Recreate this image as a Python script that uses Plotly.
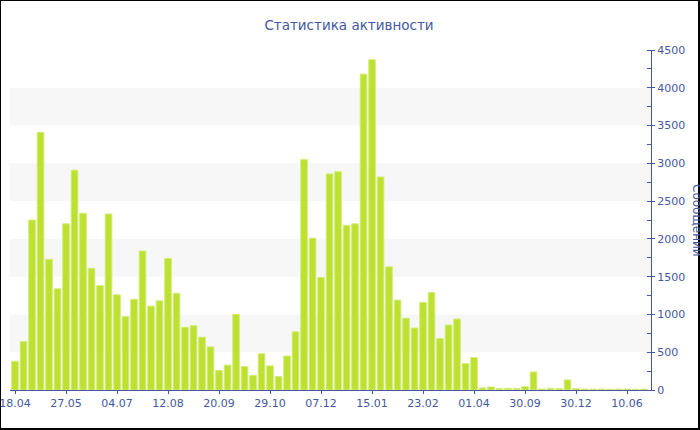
import plotly.graph_objects as go

# ---- data ----
values = [380, 640, 2250, 3410, 1730, 1340, 2200, 2910, 2340, 1610,
          1380, 2330, 1260, 970, 1200, 1840, 1110, 1180, 1740, 1280,
          830, 850, 700, 570, 260, 330, 1000, 310, 195, 480,
          320, 180, 450, 770, 3050, 2010, 1490, 2860, 2890, 2180,
          2200, 4180, 4370, 2820, 1630, 1190, 950, 820, 1160, 1290,
          680, 860, 940, 350, 430, 27, 40, 18, 22, 18,
          44, 239, 13, 22, 18, 133, 20, 13, 12, 12,
          10, 12, 12, 10, 12]
positions = list(range(len(values)))
tick_positions = [0, 6, 12, 18, 24, 30, 36, 42, 48, 54, 60, 66, 72]
tick_labels = ["18.04", "27.05", "04.07", "12.08", "20.09", "29.10", "07.12",
               "15.01", "23.02", "01.04", "30.09", "30.12", "10.06"]
band_ranges = [(500, 1000), (1500, 2000), (2500, 3000), (3500, 4000)]
title_text = "Статистика активности"
y_title = "Сообщений"

# ---- layout geometry ----
W, H = 700, 430
ML, MR, MT, MB = 10, 49, 50, 40
PW, PH = W - ML - MR, H - MT - MB

def px_x(p):
    return (p - ML) / PW

def px_y(p):
    return (H - MB - p) / PH

BLUE = "#4458A2"
FONT = "DejaVu Sans"

fig = go.Figure()
fig.add_trace(go.Bar(
    x=positions, y=values,
    marker=dict(color="#BDE031", line=dict(color="#D3EC78", width=1)),
    hoverinfo="y",
))

shapes = []
for lo, hi in band_ranges:
    shapes.append(dict(type="rect", xref="paper", yref="y", x0=0, x1=1, y0=lo, y1=hi,
                       fillcolor="#F7F7F7", line=dict(width=0), layer="below"))
# outer frame
shapes += [
    dict(type="line", xref="paper", yref="paper", x0=px_x(0.5), x1=px_x(0.5), y0=px_y(0), y1=px_y(430),
         line=dict(color="black", width=1)),
    dict(type="line", xref="paper", yref="paper", x0=px_x(0), x1=px_x(700), y0=px_y(0.5), y1=px_y(0.5),
         line=dict(color="black", width=1)),
    dict(type="line", xref="paper", yref="paper", x0=px_x(699), x1=px_x(699), y0=px_y(0), y1=px_y(430),
         line=dict(color="black", width=2)),
    dict(type="line", xref="paper", yref="paper", x0=px_x(0), x1=px_x(700), y0=px_y(429), y1=px_y(429),
         line=dict(color="black", width=2)),
]

fig.update_layout(
    width=W, height=H,
    margin=dict(l=ML, r=MR, t=MT, b=MB, pad=0, autoexpand=False),
    paper_bgcolor="white", plot_bgcolor="white",
    showlegend=False,
    bargap=0.22,
    font=dict(family=FONT, size=11, color=BLUE),
    title=dict(text=title_text, x=349 / W, xanchor="center",
               y=1 - 25 / H, yanchor="middle",
               font=dict(family=FONT, size=13.5, color=BLUE)),
    xaxis=dict(
        range=[-0.59, 74.82], automargin=False,
        tickmode="array", tickvals=tick_positions, ticktext=tick_labels,
        ticklabeloverflow="allow",
        showline=True, linecolor=BLUE, linewidth=1,
        ticks="outside", ticklen=3, tickcolor=BLUE,
        showgrid=False, zeroline=False,
        tickfont=dict(family=FONT, size=11, color=BLUE),
    ),
    yaxis=dict(
        range=[0, 4500], side="right", automargin=False,
        tickmode="linear", tick0=0, dtick=500,
        ticklabeloverflow="allow",
        showline=True, linecolor=BLUE, linewidth=1,
        ticks="outside", ticklen=3, tickcolor=BLUE,
        minor=dict(ticks="inside", ticklen=4, dtick=250, tickcolor=BLUE, showgrid=False),
        showgrid=False, zeroline=False,
        tickfont=dict(family=FONT, size=11, color=BLUE),
    ),
    shapes=shapes,
    annotations=[dict(text=y_title, xref="paper", yref="paper",
                      x=px_x(697), y=px_y(220), xanchor="center", yanchor="middle",
                      textangle=90, showarrow=False,
                      font=dict(family=FONT, size=12, color=BLUE))],
)

fig.write_html("out.html", config={"displayModeBar": False},
               post_script="document.body.style.margin='0';document.body.style.overflow='hidden';")
